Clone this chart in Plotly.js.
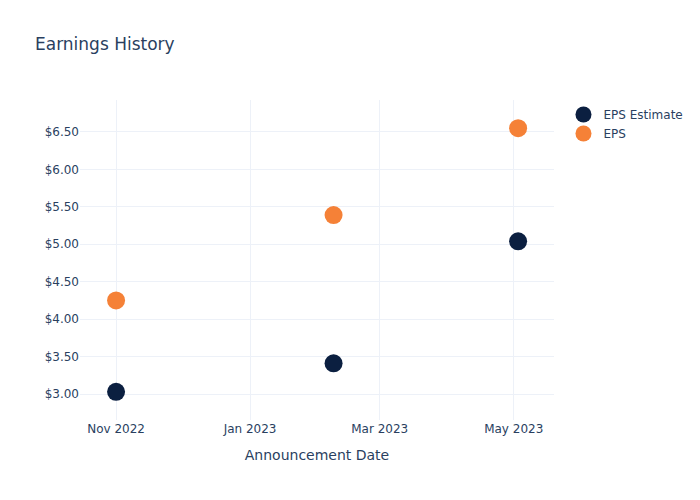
<!DOCTYPE html>
<html>
<head>
<meta charset="utf-8">
<script src="https://cdn.plot.ly/plotly-3.0.1.min.js"></script>
<style>html,body{margin:0;padding:0;}#chart{width:700px;height:500px;}</style>
</head>
<body>
<div id="chart"></div>
<script>
const dates = ["2022-11-01", "2023-02-08", "2023-05-03"];
const epsEstimate = [3.03, 3.41, 5.04];
const eps = [4.25, 5.39, 6.55];
const seriesNames = ["EPS Estimate", "EPS"];

const traces = [
  {x: dates, y: epsEstimate, name: seriesNames[0], type: "scatter", mode: "markers",
   marker: {color: "#0b1f40", size: 18}},
  {x: dates, y: eps, name: seriesNames[1], type: "scatter", mode: "markers",
   marker: {color: "#f58137", size: 18}}
];

const gridColor = "#edf1f8";
const layout = {
  width: 700, height: 500,
  paper_bgcolor: "white", plot_bgcolor: "white",
  font: {family: "DejaVu Sans, verdana, arial, sans-serif", color: "#2a3f5f", size: 12},
  title: {text: "Earnings History", x: 0.05, xanchor: "left", font: {size: 17, color: "#2a3f5f"}},
  margin: {l: 80, r: 80, t: 100, b: 80},
  xaxis: {
    title: {text: "Announcement Date", font: {size: 14}, standoff: 15},
    type: "date",
    range: ["2022-10-15 14:00", "2023-05-19 08:00"],
    gridcolor: gridColor, zeroline: false, showline: false, ticks: ""
  },
  yaxis: {
    tickprefix: "$", tickformat: ".2f",
    range: [2.653, 6.927],
    dtick: 0.5,
    gridcolor: gridColor, zeroline: false, showline: false, ticks: ""
  },
  legend: {font: {size: 12}},
  showlegend: true
};

Plotly.newPlot("chart", traces, layout, {displayModeBar: false});
</script>
</body>
</html>
